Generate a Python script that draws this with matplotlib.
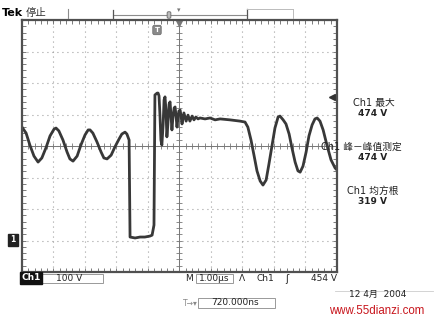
import numpy as np
import matplotlib
matplotlib.use('Agg')
import matplotlib.pyplot as plt
from matplotlib.patches import Rectangle

plt.rcParams['font.family'] = ['DejaVu Sans', 'Noto Sans CJK SC']

# time (us) and voltage (V, ground = 0)
t_us = [0.00, 0.13, 0.25, 0.38, 0.51, 0.63, 0.76, 0.89, 1.02, 1.08, 1.17, 1.30,
        1.43, 1.52, 1.62, 1.75, 1.87, 2.00, 2.10, 2.16, 2.25, 2.38, 2.51, 2.60,
        2.70, 2.83, 2.95, 3.08, 3.17, 3.27, 3.33, 3.40, 3.43, 3.59, 3.75, 3.90,
        4.06, 4.13, 4.19, 4.22, 4.29, 4.32, 4.35, 4.38, 4.41, 4.44, 4.48, 4.51,
        4.54, 4.57, 4.60, 4.63, 4.67, 4.70, 4.73, 4.76, 4.79, 4.83, 4.86, 4.89,
        4.92, 4.95, 4.98, 5.02, 5.05, 5.08, 5.14, 5.21, 5.27, 5.33, 5.40, 5.46,
        5.52, 5.59, 5.65, 5.81, 5.97, 6.13, 6.29, 6.60, 6.92, 7.08, 7.17, 7.27,
        7.37, 7.46, 7.56, 7.65, 7.75, 7.84, 7.94, 8.03, 8.13, 8.19, 8.29, 8.38,
        8.48, 8.57, 8.67, 8.76, 8.83, 8.92, 9.02, 9.11, 9.21, 9.30, 9.37, 9.46,
        9.56, 9.68, 9.81, 9.94, 10.00]
volts = [360, 341, 303, 268, 249, 262, 294, 332, 354, 357, 348, 319,
         281, 259, 252, 268, 303, 335, 351, 351, 341, 313, 281, 262,
         259, 271, 297, 322, 338, 344, 338, 319, 11, 8, 11, 11,
         14, 17, 49, 462, 468, 468, 459, 398, 319, 303, 367, 446,
         456, 414, 329, 367, 433, 440, 398, 351, 389, 421, 424, 395,
         360, 389, 411, 414, 395, 370, 405, 379, 398, 379, 395, 383,
         392, 386, 389, 386, 389, 383, 386, 383, 379, 376, 360, 319,
         268, 221, 189, 176, 192, 243, 303, 357, 392, 395, 383, 370,
         338, 294, 249, 221, 217, 236, 281, 332, 367, 386, 389, 379,
         351, 303, 256, 230, 224]

W, H = 439, 323
fig = plt.figure(figsize=(W / 100, H / 100), dpi=100)
fig.patch.set_facecolor('white')

def fx(x):
    return x / W

def fy(y):
    return 1 - y / H

# screen area: 10 x 8 divisions
ax = fig.add_axes([fx(22), fy(272), (337 - 22) / W, (272 - 20) / H])
ax.set_xlim(0, 10)
ax.set_ylim(-100, 700)
ax.set_xticks(np.arange(0, 11, 1))
ax.set_yticks(np.arange(-100, 701, 100))
ax.set_xticks(np.arange(0, 10.01, 0.2), minor=True)
ax.set_yticks(np.arange(-100, 700.1, 20), minor=True)
ax.tick_params(which='both', direction='in', length=3, width=0.6, color='#666',
               top=True, right=True, labelbottom=False, labelleft=False)
for s in ax.spines.values():
    s.set_color('#505050')
    s.set_linewidth(1.6)

# dotted graticule
ax.grid(True, which='major', color='#8a8a8a', linewidth=0.8,
        linestyle=(0, (0.8, 3.7)))
# center cross with fine ticks
ax.axhline(300, color='#777', linewidth=0.7)
ax.axvline(5, color='#777', linewidth=0.7)
ax.plot(np.arange(0, 10.01, 0.2), [300] * 51, linestyle='none', marker='|',
        markersize=4, color='#777', markeredgewidth=0.6)
ax.plot([5] * 41, np.arange(-100, 700.1, 20), linestyle='none', marker='_',
        markersize=4, color='#777', markeredgewidth=0.6)

ax.plot(t_us, volts, color='#383838', linewidth=2.0, solid_joinstyle='round')

# trigger level arrow on the right edge
ax.plot([9.85], [454], marker='<', color='#333', markersize=4, clip_on=False)
# trigger position marker on top edge
ax.plot([5], [690], marker='v', color='#777', markersize=4, clip_on=False)

# header
fig.text(fx(2), fy(13), 'Tek', fontsize=8, fontweight='bold', va='center')
fig.text(fx(26), fy(13), '停止', fontsize=7.5, va='center', color='#333')
lc = '#8c8c8c'
fig.add_artist(plt.Line2D([fx(68), fx(68)], [fy(9), fy(18)], color=lc, lw=0.8))
fig.add_artist(plt.Line2D([fx(113), fx(247)], [fy(15), fy(15)], color=lc, lw=0.8))
fig.add_artist(plt.Line2D([fx(113), fx(113)], [fy(10), fy(19)], color='#555', lw=0.9))
fig.add_artist(plt.Line2D([fx(247), fx(247)], [fy(9), fy(19)], color='#555', lw=0.9))
fig.add_artist(plt.Line2D([fx(247), fx(293)], [fy(9), fy(9)], color='#bbb', lw=0.7))
fig.add_artist(plt.Line2D([fx(293), fx(293)], [fy(9), fy(18)], color='#bbb', lw=0.7))
fig.text(fx(169), fy(15), ' ', fontsize=3, ha='center', va='center',
         bbox=dict(boxstyle='round,pad=0.3', fc='#bbb', ec='#666', lw=0.6))
fig.text(fx(179), fy(10), '▾', fontsize=5, ha='center', va='center', color='#777')
fig.text(fx(157), fy(30), 'T', fontsize=5, ha='center', va='center', color='white',
         fontweight='bold',
         bbox=dict(boxstyle='round,pad=0.25', fc='#8a8a8a', ec='#666', lw=0.5))

# ground marker
fig.text(fx(13), fy(240), '1', fontsize=5.5, ha='center', va='center', color='white',
         fontweight='bold',
         bbox=dict(boxstyle='square,pad=0.25', fc='#222', ec='#222'))

# measurements
meas = [('Ch1 最大', '474 V', 103, 353),
        ('Ch1 峰－峰值测定', '474 V', 147, 321),
        ('Ch1 均方根', '319 V', 191, 347)]
for name, val, y, xl in meas:
    fig.text(fx(xl), fy(y), name, fontsize=7, ha='left', va='center', color='#222')
    fig.text(fx(373), fy(y + 10), val, fontsize=6.5, ha='center', va='center',
             color='#222', fontweight='bold')

# bottom status line
fig.text(fx(31), fy(278), 'Ch1', fontsize=6.5, ha='center', va='center', color='white',
         fontweight='bold',
         bbox=dict(boxstyle='square,pad=0.15', fc='#111', ec='#111'))
fig.add_artist(Rectangle((fx(42), fy(283)), (103 - 42) / W, 9 / H, fill=False,
                         ec='#999', lw=0.7, transform=fig.transFigure))
fig.text(fx(69), fy(278.5), '100 V', fontsize=6.5, ha='center', va='center', color='#222')
fig.text(fx(189), fy(278.5), 'M', fontsize=6.5, ha='center', va='center', color='#222')
fig.add_artist(Rectangle((fx(196), fy(283)), (233 - 196) / W, 9 / H, fill=False,
                         ec='#999', lw=0.7, transform=fig.transFigure))
fig.text(fx(214.5), fy(278.5), '1.00µs', fontsize=6.5, ha='center', va='center', color='#222')
fig.text(fx(242), fy(278.5), 'Λ', fontsize=6.5, ha='center', va='center', color='#222')
fig.text(fx(265), fy(278.5), 'Ch1', fontsize=6.5, ha='center', va='center', color='#222')
fig.text(fx(287), fy(278.5), 'ʃ', fontsize=7, ha='center', va='center', color='#222')
fig.text(fx(337), fy(278.5), '454 V', fontsize=6.5, ha='right', va='center', color='#222')

fig.text(fx(190), fy(303), 'T→▾', fontsize=5.5, ha='center', va='center', color='#888')
fig.add_artist(Rectangle((fx(198), fy(307.5)), (275 - 198) / W, 10 / H, fill=False,
                         ec='#999', lw=0.7, transform=fig.transFigure))
fig.text(fx(235), fy(302.5), '720.000ns', fontsize=6.5, ha='center', va='center',
         color='#222')

fig.add_artist(plt.Line2D([fx(335), fx(433)], [fy(291), fy(291)], color='#ccc', lw=0.6))
fig.text(fx(378), fy(294), '12 4月  2004', fontsize=6.5, ha='center', va='center',
         color='#222')
fig.text(fx(377), fy(311), 'www.55dianzi.com', fontsize=8.3, ha='center', va='center',
         color='#c8161d', family=['Liberation Sans', 'DejaVu Sans'])

fig.savefig('out.png', dpi=100, facecolor='white')
